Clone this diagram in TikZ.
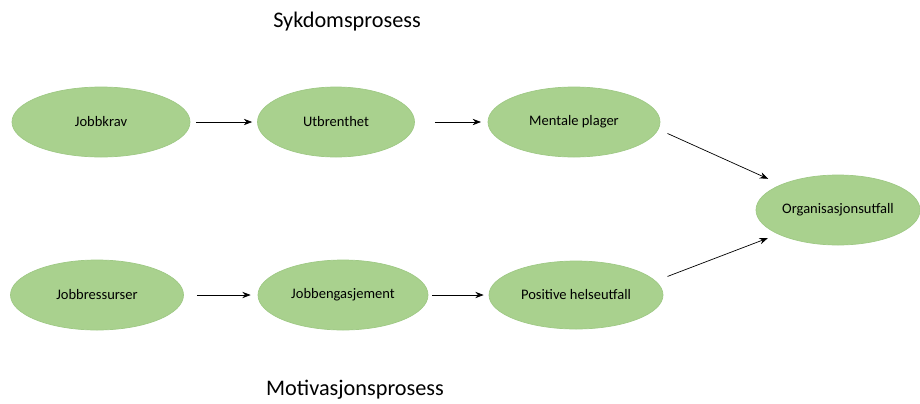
\documentclass[tikz,border=0pt]{standalone}
\usepackage{fontspec}
\setmainfont{Carlito}
\usepackage{xcolor}
\usetikzlibrary{shapes.geometric, positioning, arrows.meta}

\definecolor{leafgreen}{HTML}{A9D18E}
\definecolor{leafedge}{HTML}{9FC985}

\tikzset{
  factor/.style={ellipse, draw=leafedge, fill=leafgreen, line width=0.6pt,
    inner sep=0pt, minimum width=5.2cm, minimum height=2.1cm,
    font=\fontsize{12.4}{14}\selectfont},
  heading/.style={font=\fontsize{19}{22}\selectfont},
  link/.style={->, >={Stealth[length=2.5mm, width=1.9mm]}, line width=0.6pt}
}

\begin{document}
\begin{tikzpicture}[node distance=7cm, on grid]
        \useasboundingbox (0,0) rectangle (27.6,-12.09);

        \node[heading] (sykdom) at (10.41,-0.66) {Sykdomsprosess};
        \node[heading] (motiv)  at (10.65,-11.7) {Motivasjonsprosess};

        % sykdomsprosess
        \node[factor, minimum width=5.34cm] (krav) at (3.03,-3.66) {Jobbkrav};
        \node[factor, minimum width=4.71cm] (utbrent) [right=7.05cm of krav] {Utbrenthet};
        \node[factor, minimum width=5.16cm] (mentale) [right=7.14cm of utbrent] {Mentale plager};
        \node[factor, minimum width=4.92cm] (org) [below right=2.64cm and 7.92cm of mentale] {Organisasjonsutfall};

        % motivasjonsprosess
        \node[factor, minimum width=5.19cm] (ressurser) at (2.91,-8.85) {Jobbressurser};
        \node[factor, minimum width=5.1cm] (engasjement) [right=7.38cm of ressurser] {Jobbengasjement};
        \node[factor, minimum width=5.22cm, minimum height=2.04cm] (helse) [right=6.99cm of engasjement] {Positive helseutfall};

        \path[link]
        (krav) edge [shorten <=0.18cm, shorten >=0.15cm] (utbrent)
        (utbrent) edge [shorten <=0.6cm, shorten >=0.2cm] (mentale)
        (mentale.-5) edge [shorten <=0.3cm, shorten >=0.42cm] (org.156)
        (ressurser) edge [shorten <=0.39cm, shorten >=0.21cm] (engasjement)
        (engasjement) edge [shorten <=0.12cm, shorten >=0.15cm] (helse)
        (helse.10) edge [shorten <=0.38cm, shorten >=0.33cm] (org.-158);

    \end{tikzpicture}
\end{document}
